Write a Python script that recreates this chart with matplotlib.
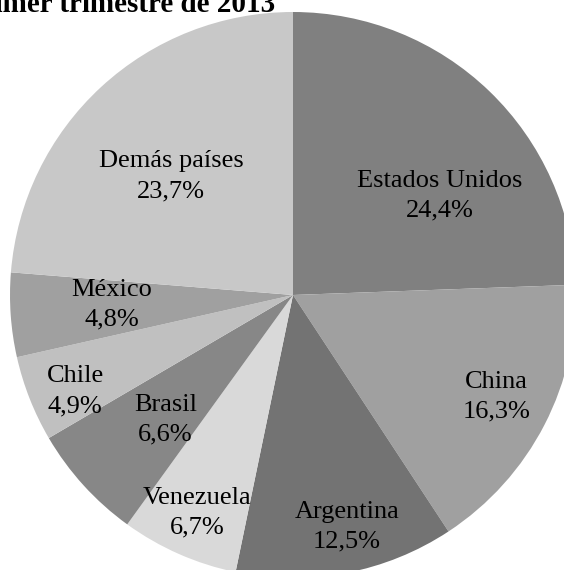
import matplotlib
matplotlib.use("Agg")
import matplotlib.pyplot as plt

countries = ["Estados Unidos", "China", "Argentina", "Venezuela", "Brasil",
             "Chile", "México", "Demás países"]
shares = [24.4, 16.3, 12.5, 6.7, 6.6, 4.9, 4.8, 23.7]
share_labels = ["24,4%", "16,3%", "12,5%", "6,7%", "6,6%", "4,9%", "4,8%", "23,7%"]
colors = ["#808080", "#a0a0a0", "#737373", "#d9d9d9", "#878787",
          "#c0c0c0", "#a0a0a0", "#c8c8c8"]
# where each data label sits (Excel "best fit"), in pie radius units
label_pos = [(0.52, 0.35), (0.72, -0.36), (0.19, -0.82), (-0.34, -0.77),
             (-0.45, -0.44), (-0.77, -0.34), (-0.64, -0.035), (-0.43, 0.42)]

W, H = 564, 570
fig = plt.figure(figsize=(W / 100, H / 100), dpi=100)
cx, cy, r = 293, 295, 283
ax = fig.add_axes([(cx - r) / W, (H - cy - r) / H, 2 * r / W, 2 * r / H])

ax.pie(shares, colors=colors, startangle=90, counterclock=False,
       wedgeprops=dict(linewidth=0))
ax.set_xlim(-1, 1)
ax.set_ylim(-1, 1)
ax.set_aspect("equal")
ax.axis("off")

for name, lab, (x, y) in zip(countries, share_labels, label_pos):
    ax.text(x, y, f"{name}\n{lab}", ha="center", va="center",
            family="Liberation Serif", fontsize=19, linespacing=1.45)

# title is clipped by the image edge in the original
fig.text(275 / W, 1 - 12 / H, "Primer trimestre de 2013", ha="right",
         va="baseline", family="Liberation Serif", fontweight="bold",
         fontsize=21)

fig.savefig("out.png", dpi=100)
